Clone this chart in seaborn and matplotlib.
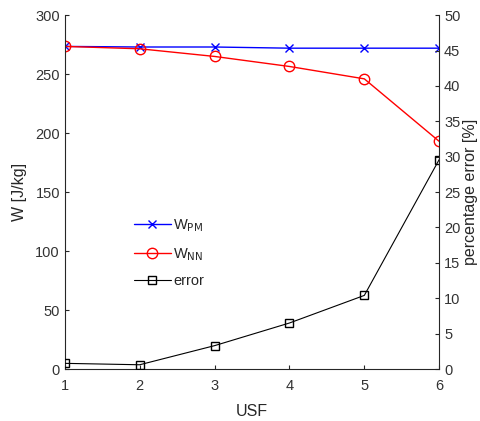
import matplotlib
matplotlib.use("Agg")
import matplotlib.pyplot as plt
import seaborn as sns
import pandas as pd
from matplotlib.lines import Line2D

usf = [1, 2, 3, 4, 5, 6]
w_pm = [273.5, 273, 273, 272, 272, 272]
w_nn = [273.5, 271.5, 265, 256.5, 246, 193]
err = [0.8, 0.6, 3.3, 6.5, 10.4, 29.6]

sns.set_theme(style="white")
plt.rcParams['font.family'] = ['Liberation Sans', 'DejaVu Sans']

df = pd.DataFrame({"USF": usf, "WPM": w_pm, "WNN": w_nn, "err": err})

fig = plt.figure(figsize=(4.8, 4.21), dpi=100)
ax = fig.add_axes([0.135, 0.1235, 0.78, 0.8405])
ax2 = ax.twinx()

sns.lineplot(data=df, x="USF", y="WPM", ax=ax, color="blue", marker="x",
             markersize=6, markeredgecolor="blue", markeredgewidth=1, linewidth=1)
sns.lineplot(data=df, x="USF", y="WNN", ax=ax, color="red", marker="o",
             markersize=7.5, markerfacecolor="none", markeredgecolor="red",
             markeredgewidth=1, linewidth=1)
sns.lineplot(data=df, x="USF", y="err", ax=ax2, color="black", marker="s",
             markersize=6, markerfacecolor="none", markeredgecolor="black",
             markeredgewidth=1, linewidth=0.8)

ax.set_xlim(1, 6)
ax.set_ylim(0, 300)
ax2.set_ylim(0, 50)
ax.set_xticks(usf)
ax.set_yticks(range(0, 301, 50))
ax2.set_yticks(range(0, 51, 5))

for a in (ax, ax2):
    a.spines['top'].set_visible(False)
    for s in ('left', 'right', 'bottom'):
        a.spines[s].set_color('#262626')
        a.spines[s].set_linewidth(0.8)
    a.tick_params(direction='in', length=3, width=0.8, colors='#262626',
                  labelsize=10.5, labelcolor='#333333')
ax.spines['right'].set_visible(False)
ax2.spines['left'].set_visible(False)
ax2.spines['bottom'].set_visible(False)
ax.tick_params(axis='both', which='both', left=True, bottom=True)
ax.tick_params(axis='x', pad=7)
ax2.tick_params(axis='y', right=True)

ax.set_xlabel("USF", fontsize=11.5, color='#262626', labelpad=8)
ax.set_ylabel("W [J/kg]", fontsize=11.5, color='#262626', labelpad=6)
ax2.set_ylabel("percentage error [%]", fontsize=11.5, color='#262626', labelpad=2)

handles = [
    Line2D([], [], color="blue", marker="x", markersize=6, linewidth=1),
    Line2D([], [], color="red", marker="o", markersize=7.5, markerfacecolor="none", linewidth=1),
    Line2D([], [], color="black", marker="s", markersize=6, markerfacecolor="none", linewidth=0.8),
]
labels = [r"W$_{\mathrm{PM}}$", r"W$_{\mathrm{NN}}$", "error"]
ax2.legend(handles, labels, loc="upper left", bbox_to_anchor=(0.15, 0.465),
           frameon=False, fontsize=10.5, handlelength=2.5, handletextpad=0.2,
           labelspacing=0.8)

fig.savefig("out.png", dpi=100)
